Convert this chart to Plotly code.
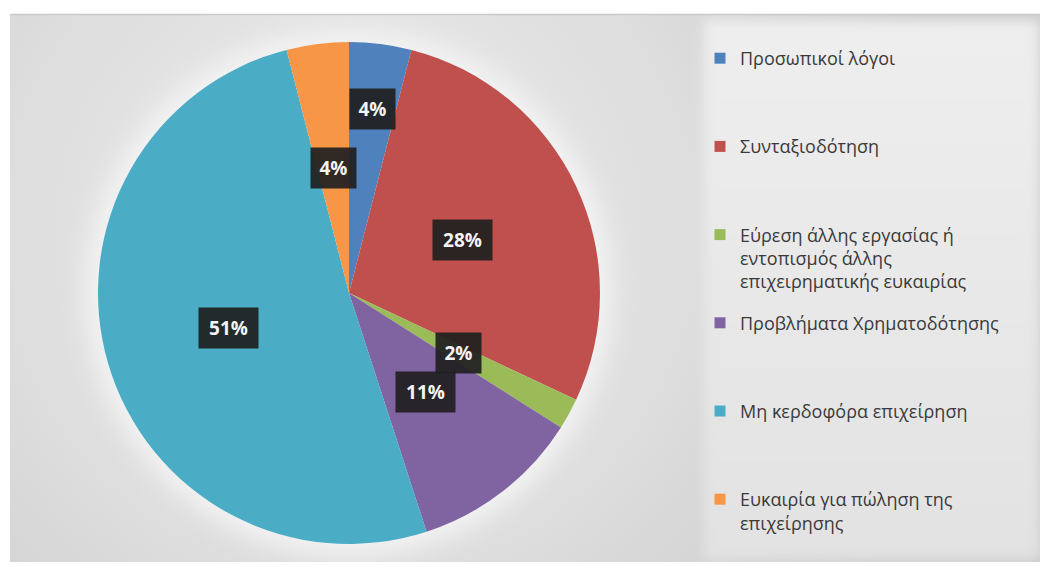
import base64
import math
import plotly.graph_objects as go

# Reasons for closing a business (share of responses, %)
labels = [
    "Προσωπικοί λόγοι",
    "Συνταξιοδότηση",
    "Εύρεση άλλης εργασίας ή εντοπισμός άλλης επιχειρηματικής ευκαιρίας",
    "Προβλήματα Χρηματοδότησης",
    "Μη κερδοφόρα επιχείρηση",
    "Ευκαιρία για πώληση της επιχείρησης",
]
legend_text = [
    "Προσωπικοί λόγοι",
    "Συνταξιοδότηση",
    "Εύρεση άλλης εργασίας ή<br>εντοπισμός άλλης<br>επιχειρηματικής ευκαιρίας",
    "Προβλήματα Χρηματοδότησης",
    "Μη κερδοφόρα επιχείρηση",
    "Ευκαιρία για πώληση της<br>επιχείρησης",
]
values = [4, 28, 2, 11, 51, 4]
colors = ["#4F81BD", "#C0504D", "#9BBB59", "#8064A2", "#4BACC6", "#F79646"]

W, H = 1040, 565
CX, CY, R = 349, 293, 251          # pie centre and radius in pixels
LABEL_RADIUS = [0.74, 0.5, 0.5, 0.5, 0.5, 0.5]

# soft grey chart-area background with a light glow behind the pie
svg = f"""<svg xmlns="http://www.w3.org/2000/svg" width="{W}" height="{H}" viewBox="0 0 {W} {H}">
<defs>
 <radialGradient id="bg" cx="{CX}" cy="{CY-60}" r="640" gradientUnits="userSpaceOnUse">
  <stop offset="0" stop-color="#eeeeee"/>
  <stop offset="0.55" stop-color="#dddddd"/>
  <stop offset="1" stop-color="#cbcbcb"/>
 </radialGradient>
 <linearGradient id="lg" x1="0" y1="0" x2="0" y2="1">
  <stop offset="0" stop-color="#eeeeee"/>
  <stop offset="1" stop-color="#e2e2e2"/>
 </linearGradient>
 <filter id="b1" x="-30%" y="-30%" width="160%" height="160%"><feGaussianBlur stdDeviation="12"/></filter>
 <filter id="b2" x="-10%" y="-10%" width="120%" height="120%"><feGaussianBlur stdDeviation="6"/></filter>
 <clipPath id="area"><rect x="10" y="15" width="1030" height="547"/></clipPath>
</defs>
<rect width="{W}" height="{H}" fill="#ffffff"/>
<g clip-path="url(#area)">
 <rect x="10" y="15" width="1030" height="547" fill="url(#bg)"/>
 <circle cx="{CX}" cy="{CY}" r="{R+12}" fill="#f3f3f3" filter="url(#b1)"/>
 <rect x="704" y="20" width="336" height="540" fill="url(#lg)" filter="url(#b2)"/>
</g>
<line x1="10" y1="14.5" x2="{W}" y2="14.5" stroke="#c9c9c9" stroke-width="1.5"/>
</svg>"""
bg_src = "data:image/svg+xml;base64," + base64.b64encode(svg.encode("utf-8")).decode()

fig = go.Figure()

fig.add_trace(go.Pie(
    labels=labels,
    values=values,
    sort=False,
    direction="clockwise",
    rotation=0,
    marker=dict(colors=colors, line=dict(width=0)),
    textinfo="none",
    hoverinfo="label+percent",
    showlegend=False,
    domain=dict(
        x=[(CX - R) / W, (CX + R) / W],
        y=[1 - (CY + R) / H, 1 - (CY - R) / H],
    ),
))

# legend entries, one group each so the spacing between them can be set
for i, (name, col) in enumerate(zip(legend_text, colors)):
    padded = name + "<br> " * (3 - name.count("<br>") - 1)
    fig.add_trace(go.Scatter(
        x=[None], y=[None], mode="markers",
        marker=dict(symbol="square", size=11, color=col),
        name=padded, legendgroup=f"g{i}", showlegend=True,
    ))

# dark percentage boxes inside the slices
total = sum(values)
cum = 0.0
annotations = []
for v, f in zip(values, LABEL_RADIUS):
    mid = (cum + v / 2) / total * 2 * math.pi
    cum += v
    px = CX + f * R * math.sin(mid)
    py = CY - f * R * math.cos(mid)
    txt = f"{round(100 * v / total)}%"
    annotations.append(dict(
        x=px / W, y=1 - py / H, xref="paper", yref="paper",
        text=f"<b>{txt}</b>", showarrow=False,
        font=dict(family="Open Sans", size=19, color="#f4f4f4"),
        bgcolor="rgba(32,32,32,0.93)",
        width=15 + 14 * len(txt), height=38,
        xanchor="center", yanchor="middle",
    ))

fig.update_layout(
    width=W, height=H,
    margin=dict(l=0, r=0, t=0, b=0),
    paper_bgcolor="#ffffff",
    plot_bgcolor="rgba(0,0,0,0)",
    xaxis=dict(visible=False),
    yaxis=dict(visible=False),
    images=[dict(source=bg_src, xref="paper", yref="paper", x=0, y=1,
                 sizex=1, sizey=1, xanchor="left", yanchor="top",
                 sizing="stretch", layer="below")],
    legend=dict(
        x=700 / W, y=1 - 40 / H, xanchor="left", yanchor="top",
        bgcolor="rgba(0,0,0,0)", valign="top",
        font=dict(family="Open Sans", size=18, color="#3a3a3a"),
        tracegroupgap=15,
    ),
    annotations=annotations,
    showlegend=True,
)

fig.write_html("out.html")
